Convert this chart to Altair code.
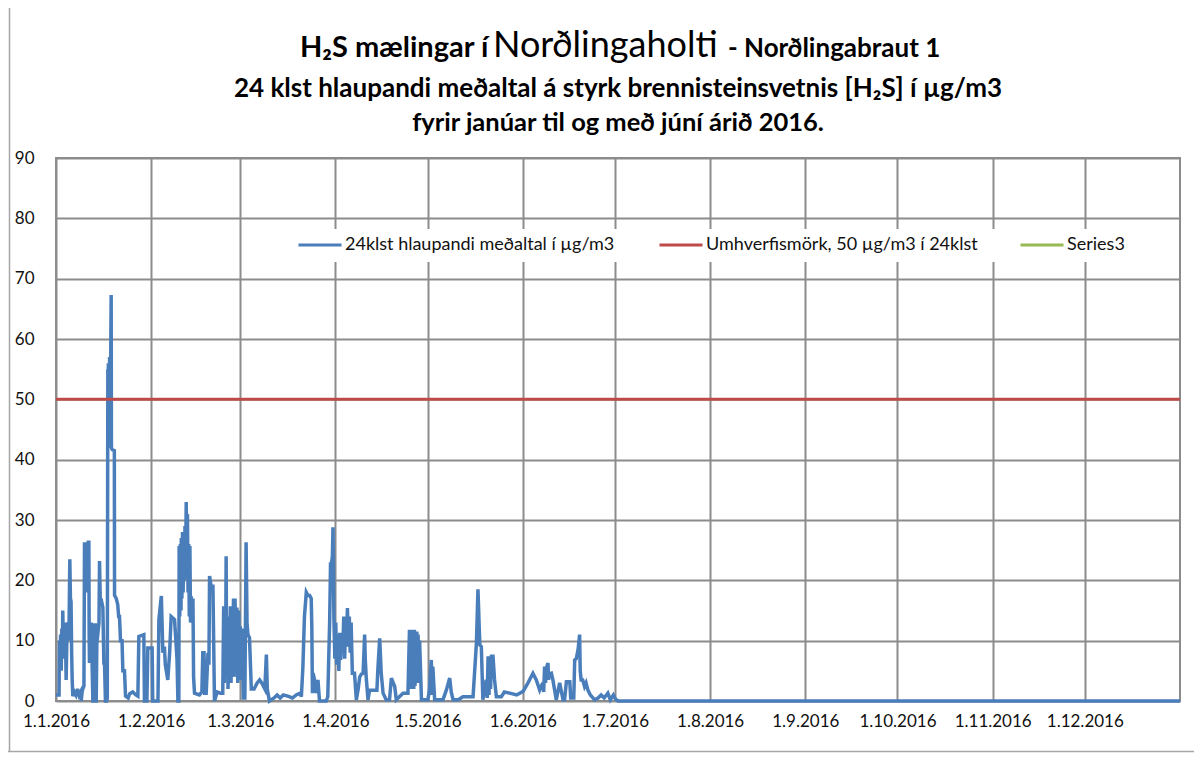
import altair as alt
import pandas as pd

# ---- data -----------------------------------------------------------------
# (day offset from 1.1.2016, 24 h running mean of H2S in µg/m3), one list per month
JAN = [(0, 1), (1.0, 1), (1.1, 10), (1.3, 6), (1.5, 11), (1.7, 5), (1.9, 12), (2.1, 8), (2.2, 15),
       (2.5, 7), (2.8, 13), (3.1, 10), (3.3, 3.5), (3.6, 12), (3.85, 13), (4.2, 10), (4.5, 23.5),
       (4.7, 17), (4.9, 16.5), (5.1, 8), (5.27, 3.5), (5.48, 0.8), (6.0, 1.5), (6.5, 1), (7.0, 2),
       (7.5, 1), (8.0, 1.5), (8.2, 0), (8.5, 1.5), (8.74, 2), (9.1, 2.5), (9.28, 26.3), (9.5, 20),
       (9.7, 26.3), (9.9, 18), (10.1, 26.3), (10.3, 22), (10.5, 26.3), (10.7, 26.3), (10.8, 11),
       (10.9, 6.3), (11.2, 10), (11.45, 13), (11.8, 5), (12.0, 0), (12.3, 0), (12.5, 12.6), (12.8, 12.6),
       (13.0, 0), (13.1, 0), (13.3, 9.6), (13.6, 11), (14.0, 13), (14.17, 23.2), (14.4, 17), (14.71, 16.8),
       (15.26, 15.5), (15.6, 6), (15.8, 6.3), (16.1, 0), (16.5, 0), (16.7, 0.5), (16.88, 55), (16.95, 42),
       (17.05, 56), (17.15, 43), (17.25, 56), (17.35, 42), (17.45, 57), (17.55, 44), (17.65, 57),
       (17.75, 45), (17.85, 60), (17.97, 67.3), (18.05, 42), (18.3, 41.7), (19.0, 41.5), (19.06, 17.5),
       (19.6, 17), (20.1, 16), (20.4, 14), (20.68, 14), (21.0, 10), (21.5, 10), (21.77, 5), (22.3, 5),
       (22.64, 0.8), (23.5, 0.5), (24, 1.2), (25, 1.5), (26, 1.0), (26.66, 0.8), (26.98, 10.7),
       (28.6, 11), (28.8, 0), (29.6, 0), (29.9, 8.8), (31.3, 8.8)]
FEB = [(31.5, 0), (33.2, 0), (33.5, 13.5), (34.3, 17.4), (34.8, 8), (35.3, 9), (35.6, 6), (36.4, 3.5),
       (37.0, 8), (37.5, 14), (38.6, 13.5), (39.4, 7), (39.7, 0), (40, 0), (40.1, 25.7), (40.3, 14),
       (40.5, 26), (40.7, 15), (40.8, 27), (41.0, 17), (41.2, 28), (41.4, 18), (41.6, 27), (41.8, 20),
       (42.0, 29), (42.2, 22), (42.4, 33), (42.6, 24), (42.8, 31), (43.0, 18), (43.2, 26), (43.4, 14),
       (43.6, 25.7), (43.8, 13), (44.0, 17.4), (44.3, 13), (44.6, 17), (44.8, 4), (45.1, 1.3), (46.7, 1),
       (47.5, 1.5), (47.8, 8), (48.2, 8), (48.4, 1.3), (48.9, 1.3), (49.5, 8), (49.8, 6), (50.0, 20.7),
       (50.5, 19), (51.1, 19), (51.6, 0), (52.5, 1.5), (53.5, 1.3), (54.3, 1.3), (54.6, 15.7), (54.8, 3),
       (55.0, 12), (55.2, 5), (55.4, 24), (55.6, 4), (55.8, 14), (56.0, 2), (56.3, 9), (56.5, 3.5),
       (56.8, 15.7), (57.0, 3), (57.2, 15.7), (57.5, 6), (57.8, 17), (58.0, 4), (58.3, 17), (58.6, 8),
       (58.9, 15.5), (59.2, 3), (59.5, 15)]
MAR = [(59.8, 3.5), (60.0, 12.4), (60.3, 6), (60.6, 12), (61.0, 0.5), (61.5, 0.5), (61.9, 26.3),
       (62.2, 13), (62.5, 11), (63.0, 10.5), (63.6, 2), (64.5, 2), (65.5, 3), (66.3, 3.5), (67, 3),
       (68, 2), (68.5, 7.7), (68.8, 2), (69.5, 0), (71, 0.5), (72, 1), (73, 0.5), (74, 1), (75.5, 0.8),
       (77, 0.5), (78.2, 1), (79.5, 1.3), (79.9, 0.7), (80.4, 5.7), (80.9, 14), (81.5, 18), (82.0, 17.5),
       (82.6, 17.5), (83.1, 17), (83.3, 12.4), (83.5, 1.3), (83.7, 4.6), (84.2, 3.5), (84.7, 1.3),
       (85.3, 3.5), (85.8, 0), (88, 0), (88.5, 0.7), (89.1, 13), (89.4, 23), (89.6, 22.4), (90.0, 24),
       (90.2, 28.8)]
APR = [(90.5, 13.5), (90.8, 7), (91.1, 13), (91.4, 6), (91.8, 11), (92.1, 5), (92.4, 11.3), (92.7, 6.8),
       (93.0, 10), (93.4, 8.5), (93.7, 14), (94.0, 7), (94.3, 13.5), (94.6, 10.5), (94.9, 15.4), (95.2, 9),
       (95.5, 14), (95.8, 8), (96.1, 13), (96.5, 4.6), (97.2, 4.6), (97.8, 0.2), (98.4, 2), (98.9, 4),
       (99.5, 4.5), (100.0, 4.6), (100.5, 11), (100.7, 7), (101.0, 4), (101.6, 0.2), (102.1, 1.8),
       (104.5, 1.8), (104.8, 5.2), (105.4, 10.4), (105.9, 4.6), (106.5, 1.3), (107.5, 0.2), (108.6, 0.2),
       (109.2, 3.8), (110.3, 2.4), (110.8, 0.2), (113, 1.3), (114.6, 1.3), (115.1, 11.8), (115.3, 2),
       (115.5, 11.8), (115.7, 2), (115.9, 11.8), (116.1, 2), (116.3, 11.8), (116.5, 2), (116.7, 11.8),
       (116.9, 2.5), (117.1, 11.5), (117.3, 3), (117.5, 11.5), (117.7, 3), (117.9, 11), (118.1, 4),
       (118.4, 10), (119, 0.2)]
MAY = [(121.1, 0.2), (121.6, 1.8), (122.2, 6.8), (122.5, 1), (122.7, 5.7), (123.3, 0.2), (126, 0.2),
       (127.1, 1.8), (128.2, 3.8), (128.7, 1.5), (129.3, 0.2), (131, 0.2), (132.5, 0.7), (135.8, 0.7),
       (136.9, 9.6), (137.4, 18.5), (138.0, 9.3), (138.5, 9), (139.0, 0.2), (140.1, 3.5), (140.4, 0.5),
       (140.7, 7.4), (141.0, 1), (141.2, 7.4), (141.5, 2), (141.8, 7.4), (142.3, 7.4), (142.8, 3.5),
       (143.4, 0.7), (145, 0.7), (146, 1.5), (147.7, 1.3), (150, 1)]
JUN = [(152.1, 1.6), (153.7, 3), (155.3, 4.6), (156.4, 3.5), (157.5, 1.8), (158.5, 3), (158.8, 1.5),
       (159.1, 5.7), (159.4, 3), (159.7, 5.5), (160.2, 6.3), (160.4, 3.5), (160.6, 4.5), (161.3, 4.6),
       (161.8, 3.5), (162.9, 0.2), (164, 3), (165.1, 0.2), (165.6, 0.2), (166.2, 3.2), (167.3, 3.2),
       (167.6, 0.5), (168.6, 0.5), (168.9, 6.8), (169.4, 7), (170.0, 8.5), (170.5, 11), (170.7, 5),
       (171.0, 3.5), (171.5, 3.5), (172.1, 2.4), (172.6, 3), (173.2, 1.8), (174, 1), (175.4, 0.2),
       (176.5, 0.5), (177.5, 1), (178.5, 0.5), (179.7, 1.3), (180.5, 0.2), (181.5, 1.0), (182.2, 0.3),
       (183, 0)]
REST = [(366, 0)]

LIMIT = 50
SERIES = ["24klst hlaupandi meðaltal í µg/m3", "Umhverfismörk, 50 µg/m3 í 24klst", "Series3"]
COLORS = ["#4a7ebb", "#be4b48", "#98b954"]
TITLE_1 = ["H₂S mælingar í", "Norðlingaholti", "- Norðlingabraut 1"]
TITLE_2 = ["24 klst hlaupandi meðaltal á styrk brennisteinsvetnis [H₂S] í µg/m3"]
TITLE_3 = ["fyrir janúar til og með júní árið 2016."]
Y_TICKS = list(range(0, 91, 10))

FONT = "Lato"
W, H = 1124, 543
GRID = "#8c8c8c"
PAD = {"left": 48, "top": 150, "right": 14, "bottom": 52}

# ---- tables ---------------------------------------------------------------
points = JAN + FEB + MAR + APR + MAY + JUN + REST
base_t = pd.Timestamp("2016-01-01")
main = pd.DataFrame({
    "t": [(base_t + pd.Timedelta(days=d)).strftime("%Y-%m-%dT%H:%M:%S") for d, _ in points],
    "v": [v for _, v in points],
    "s": SERIES[0],
})
limit = pd.DataFrame({
    "t": ["2016-01-01T00:00:00", "2017-01-01T00:00:00"],
    "v": [LIMIT, LIMIT],
    "s": SERIES[1],
})

month_vals = [alt.DateTime(year=2016, month=m, date=1) for m in range(1, 13)]

x_enc = alt.X(
    "t:T",
    title=None,
    scale=alt.Scale(domain=[alt.DateTime(year=2016, month=1, date=1),
                            alt.DateTime(year=2017, month=1, date=1)]),
    axis=alt.Axis(values=month_vals, format="%-d.%-m.%Y", labelAngle=0,
                  labelFont=FONT, labelFontSize=17, labelColor="#111",
                  labelPadding=12, ticks=False, tickSize=0, domain=False,
                  grid=True, gridColor=GRID, gridWidth=2,
                  labelOverlap=False, labelFlush=False),
)
y_enc = alt.Y(
    "v:Q",
    title=None,
    scale=alt.Scale(domain=[0, 90], nice=False),
    axis=alt.Axis(values=Y_TICKS, labelFont=FONT, labelFontSize=17, labelColor="#111",
                  labelPadding=22, ticks=False, tickSize=0, domain=False,
                  grid=True, gridColor=GRID, gridWidth=2),
)
color_enc = alt.Color(
    "s:N",
    scale=alt.Scale(domain=SERIES, range=COLORS),
    legend=alt.Legend(
        title=None, orient="none", legendX=237, legendY=60, direction="horizontal",
        symbolType="stroke", symbolSize=1849, symbolStrokeWidth=3,
        labelFont=FONT, labelFontSize=18, labelColor="#111", labelOffset=2, labelLimit=600,
        columnPadding=36, gridAlign="all", padding=4,
    ),
)

one = pd.DataFrame({"k": [0]})
# white box behind the legend (hides the grid there)
legend_box = alt.Chart(one).mark_rect(color="white").encode(
    x=alt.value(234), x2=alt.value(1086), y=alt.value(71), y2=alt.value(104)
)
# chart-area frame (left and bottom edges are visible in the picture)
frame_left = alt.Chart(one).mark_rule(color="#a6a6a6", strokeWidth=1.5).encode(
    x=alt.value(-46.5), y=alt.value(-PAD["top"]), y2=alt.value(H + PAD["bottom"] - 1)
)
frame_bottom = alt.Chart(one).mark_rule(color="#a6a6a6", strokeWidth=1.5).encode(
    y=alt.value(H + PAD["bottom"] - 1.5), x=alt.value(-PAD["left"]), x2=alt.value(W + PAD["right"])
)

blue = alt.Chart(main).mark_line(strokeWidth=3.5).encode(x=x_enc, y=y_enc, color=color_enc)
red = alt.Chart(limit).mark_line(strokeWidth=3).encode(x="t:T", y="v:Q", color="s:N")


def text_layer(lines, x, y, size, weight="bold", align="center"):
    return alt.Chart(pd.DataFrame({"txt": lines})).mark_text(
        font=FONT, fontSize=size, fontWeight=weight, align=align,
        baseline="alphabetic", color="#000",
    ).encode(x=alt.value(x), y=alt.value(y), text="txt:N")


t1a = text_layer([TITLE_1[0]], 244, -101, 29, align="left")
t1b = text_layer([TITLE_1[1]], 437, -101, 36, weight="normal", align="left")
t1c = text_layer([TITLE_1[2]], 672, -101, 26, align="left")
t2 = text_layer(TITLE_2, 562, -61, 26)
t3 = text_layer(TITLE_3, 562, -27, 25.5)

chart = alt.layer(legend_box, frame_left, frame_bottom, blue, red, t1a, t1b, t1c, t2, t3).properties(
    width=W, height=H,
    padding=PAD,
    autosize=alt.AutoSizeParams(type="none"),
    background="white",
).configure_view(stroke=GRID, strokeWidth=2)

chart.save("out.html", embed_options={"renderer": "svg", "actions": False})
